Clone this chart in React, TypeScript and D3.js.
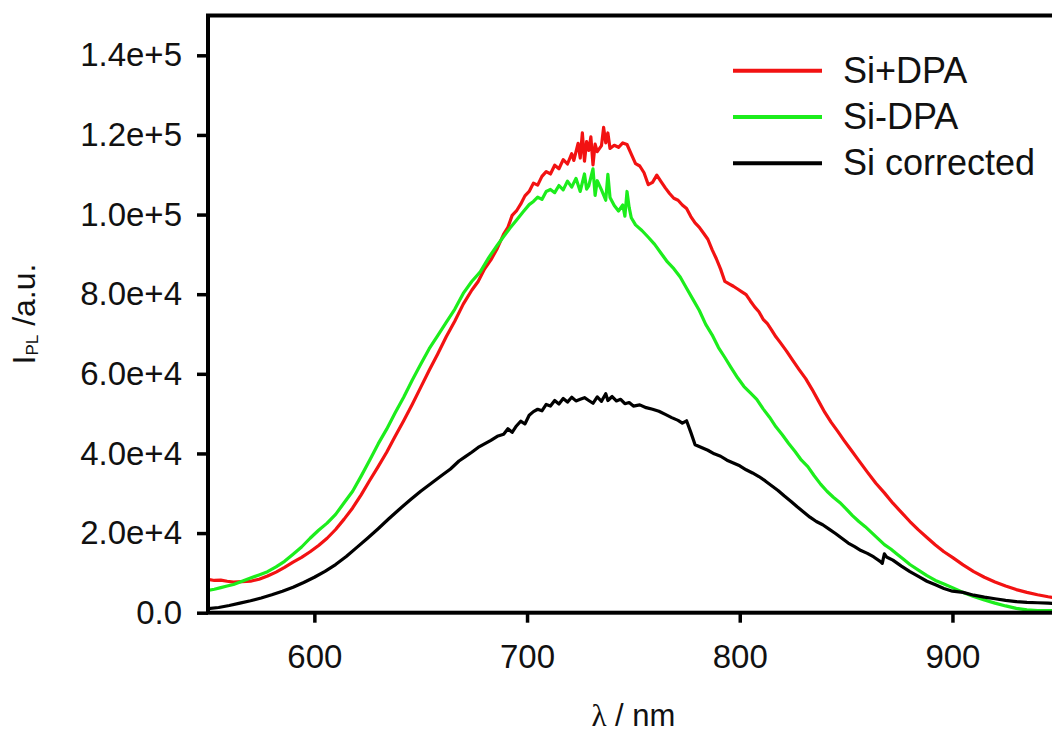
import { useEffect, useRef } from "react";
import * as d3 from "d3";

type Pt = [number, number];

// PL spectra: [wavelength nm, intensity a.u.]
const siPlusDpa: Pt[] = [
  [550, 8400], [553, 8100], [556, 8200], [559, 7900], [562, 7700], [566, 7800], [570, 7900],
  [574, 8400], [578, 9200], [582, 10200], [586, 11400], [590, 12700], [594, 13900], [598, 15300],
  [602, 16900], [606, 18700], [610, 20900], [614, 23500], [618, 26300], [622, 29600], [626, 33200],
  [630, 36700], [634, 40300], [638, 44300], [642, 48200], [646, 52300], [650, 56600], [654, 60900],
  [658, 65000], [662, 69300], [666, 73200], [670, 77500], [674, 81000], [677, 83200], [680, 86300],
  [683, 88600], [686, 91500], [689, 95100], [691, 96800], [693, 99800], [695, 100900], [697, 102600],
  [699, 104700], [701, 105800], [703, 107900], [705, 107400], [707, 109600], [709, 110800],
  [711, 110200], [713, 112400], [715, 111500], [717, 113800], [719, 112700], [721, 115300],
  [722, 113600], [724, 117900], [725, 114200], [726, 120500], [727, 113400], [728, 118300],
  [729, 116100], [730, 119500], [731, 112500], [732, 117700], [733, 115800], [735, 117300],
  [736, 121900], [737, 118000], [738, 120500], [739, 116600], [741, 117400], [743, 116900],
  [745, 118000], [747, 117600], [749, 115200], [751, 112800], [753, 112200], [755, 110500],
  [757, 107500], [759, 108100], [761, 109900], [763, 108300], [765, 106700], [767, 105300],
  [769, 104100], [771, 103600], [773, 102400], [775, 101500], [777, 99500], [779, 97900],
  [781, 96800], [783, 95300], [785, 93800], [787, 91200], [789, 88900], [791, 86300], [793, 83200],
  [795, 82600], [797, 82000], [799, 81300], [801, 80600], [803, 79900], [805, 78300], [807, 76800],
  [809, 75600], [811, 73700], [813, 72600], [815, 71000], [817, 69300], [819, 67900], [822, 65700],
  [825, 63300], [828, 61000], [831, 58800], [834, 56100], [837, 53200], [840, 50300], [843, 47800],
  [846, 45600], [849, 43300], [852, 41100], [856, 38200], [860, 35300], [864, 32500], [868, 30100],
  [872, 27500], [876, 25200], [880, 22900], [884, 20800], [888, 18900], [892, 17000], [896, 15300],
  [900, 13900], [905, 12000], [910, 10300], [915, 8900], [920, 7700], [925, 6700], [930, 5800],
  [935, 5100], [940, 4500], [945, 4000], [950, 3600],
];

const siMinusDpa: Pt[] = [
  [550, 5600], [553, 5900], [556, 6300], [559, 6700], [562, 7100], [566, 7900], [570, 8700],
  [574, 9500], [578, 10300], [582, 11500], [586, 12900], [590, 14700], [594, 16500], [598, 18700],
  [602, 20700], [606, 22500], [610, 24700], [614, 27600], [618, 30500], [622, 34300], [626, 38300],
  [630, 42400], [634, 46100], [638, 50200], [642, 54100], [646, 58400], [650, 62400], [654, 66300],
  [658, 69600], [662, 72900], [666, 76200], [670, 80200], [674, 83200], [678, 85600], [682, 89200],
  [686, 92300], [689, 94500], [692, 96600], [695, 98600], [698, 100600], [701, 102500],
  [703, 103300], [705, 104400], [707, 103800], [709, 105800], [711, 106300], [713, 105500],
  [715, 107300], [717, 106200], [719, 108400], [721, 106900], [723, 109100], [725, 105800],
  [727, 110200], [728, 106400], [729, 107200], [731, 111500], [732, 104800], [733, 108500],
  [735, 106200], [737, 103600], [738, 110100], [739, 104300], [741, 102300], [743, 100900],
  [745, 102400], [746, 99600], [747, 105800], [748, 101800], [749, 99200], [751, 97400],
  [754, 96000], [757, 94300], [760, 92500], [763, 90300], [766, 88100], [769, 86400], [772, 84300],
  [775, 81500], [778, 78700], [781, 75900], [784, 72400], [787, 69800], [790, 66600], [793, 64100],
  [796, 61500], [799, 59000], [802, 56800], [805, 55200], [808, 53600], [811, 51200], [814, 49100],
  [817, 46700], [820, 44700], [823, 42500], [826, 40500], [829, 38300], [832, 36700], [835, 34400],
  [838, 32300], [841, 30500], [844, 29000], [847, 27700], [850, 26100], [853, 24400], [856, 22900],
  [859, 21600], [862, 20100], [865, 18600], [868, 17100], [871, 16000], [874, 14700], [877, 13400],
  [880, 12100], [884, 10700], [888, 9300], [892, 8100], [896, 7200], [900, 6300], [905, 5100],
  [910, 4100], [915, 3200], [920, 2400], [925, 1700], [930, 1100], [935, 700], [940, 500],
  [945, 500], [950, 600],
];

const siCorrected: Pt[] = [
  [550, 1000], [555, 1300], [560, 1800], [565, 2400], [570, 3000], [575, 3700], [580, 4500],
  [585, 5400], [590, 6400], [595, 7600], [600, 8900], [605, 10400], [610, 12100], [615, 14100],
  [620, 16400], [625, 18700], [630, 21100], [635, 23600], [640, 26000], [645, 28300], [650, 30500],
  [655, 32500], [660, 34500], [664, 36100], [668, 38100], [671, 39200], [674, 40300], [677, 41500],
  [680, 42400], [683, 43300], [686, 44300], [689, 44800], [691, 46200], [693, 45300], [695, 46900],
  [697, 48100], [699, 47400], [701, 49600], [703, 50500], [705, 51100], [707, 50700], [709, 52300],
  [711, 51900], [713, 53300], [715, 52400], [717, 53800], [719, 52900], [721, 54100], [723, 53200],
  [725, 53600], [727, 54000], [729, 53300], [731, 52600], [733, 54200], [735, 53100], [737, 55000],
  [738, 53300], [740, 54300], [742, 53200], [744, 53600], [746, 52500], [748, 52800], [750, 51900],
  [753, 52200], [756, 51500], [759, 51100], [762, 50600], [765, 49800], [768, 49000], [771, 48300],
  [773, 47600], [775, 48200], [777, 45300], [779, 42200], [782, 41500], [785, 40800], [788, 39900],
  [791, 39300], [794, 38300], [797, 37600], [800, 36900], [803, 35900], [806, 35100], [809, 34200],
  [812, 33100], [815, 31900], [818, 30700], [821, 29300], [824, 28000], [827, 26600], [830, 25300],
  [833, 24000], [836, 22900], [839, 22100], [842, 21000], [845, 19900], [848, 18700], [851, 17500],
  [854, 16600], [857, 15600], [860, 14900], [863, 14000], [866, 12900], [867, 12400], [868, 14800],
  [869, 14000], [872, 13200], [876, 11700], [880, 10300], [884, 9100], [888, 7900], [892, 7000],
  [896, 6100], [900, 5400], [905, 5100], [910, 4400], [915, 3900], [920, 3500], [925, 3100],
  [930, 2800], [935, 2600], [940, 2500], [945, 2400], [950, 2300],
];

const seriesNames = ["Si+DPA", "Si-DPA", "Si corrected"];
const xTickValues = [600, 700, 800, 900];
const yTickValues = [0, 20000, 40000, 60000, 80000, 100000, 120000, 140000];
const yTickLabels = ["0.0", "2.0e+4", "4.0e+4", "6.0e+4", "8.0e+4", "1.0e+5", "1.2e+5", "1.4e+5"];

const COLORS = ["#f21212", "#1ced1c", "#000000"];
const FONT = "'Liberation Sans', Arial, sans-serif";

export default function App() {
  const svgRef = useRef<SVGSVGElement>(null);

  useEffect(() => {
    const width = 1052;
    const height = 735;
    const left = 208;
    const right = 1058.8; // 950 nm sits just past the page edge
    const top = 15.5;
    const bottom = 612.7;

    const svg = d3.select(svgRef.current);
    svg.selectAll("*").remove();

    const x = d3.scaleLinear().domain([550, 950]).range([left, right]);
    const y = d3.scaleLinear().domain([0, 150000]).range([bottom, top]);

    svg.append("rect").attr("width", width).attr("height", height).attr("fill", "#fff");

    svg
      .append("clipPath")
      .attr("id", "plot-clip")
      .append("rect")
      .attr("x", left)
      .attr("y", top)
      .attr("width", right - left)
      .attr("height", bottom - top);

    const line = d3
      .line<Pt>()
      .x((d) => x(d[0]))
      .y((d) => y(d[1]));

    const series = [siPlusDpa, siMinusDpa, siCorrected];
    const curves = svg.append("g").attr("clip-path", "url(#plot-clip)");
    series.forEach((data, i) => {
      curves
        .append("path")
        .datum(data)
        .attr("fill", "none")
        .attr("stroke", COLORS[i])
        .attr("stroke-width", 3.2)
        .attr("stroke-linejoin", "round")
        .attr("d", line);
    });

    // frame
    svg
      .append("rect")
      .attr("x", left)
      .attr("y", top)
      .attr("width", right - left)
      .attr("height", bottom - top)
      .attr("fill", "none")
      .attr("stroke", "#000")
      .attr("stroke-width", 4);

    const xAxis = svg
      .append("g")
      .attr("transform", `translate(0,${bottom})`)
      .call(d3.axisBottom(x).tickValues(xTickValues).tickSize(10).tickPadding(22).tickFormat(d3.format("d")));

    const yAxis = svg
      .append("g")
      .attr("transform", `translate(${left},0)`)
      .call(
        d3
          .axisLeft(y)
          .tickValues(yTickValues)
          .tickSize(11)
          .tickPadding(15)
          .tickFormat((_, i) => yTickLabels[i])
      );

    [xAxis, yAxis].forEach((g) => {
      g.select(".domain").remove();
      g.selectAll(".tick line").attr("stroke", "#000").attr("stroke-width", 3.5);
      g.selectAll(".tick text")
        .attr("fill", "#111")
        .style("font-family", FONT)
        .style("font-size", "33px");
    });

    // axis titles
    const xTitle = svg
      .append("text")
      .attr("x", (left + right) / 2)
      .attr("y", 726)
      .attr("text-anchor", "middle")
      .attr("fill", "#111")
      .style("font-family", FONT)
      .style("font-size", "31px");
    xTitle.append("tspan").style("font-family", "'Liberation Serif', 'DejaVu Serif', serif").text("λ");
    xTitle.append("tspan").text(" / nm");

    const yTitle = svg
      .append("text")
      .attr("transform", `translate(35,314) rotate(-90)`)
      .attr("text-anchor", "middle")
      .attr("fill", "#111")
      .style("font-family", FONT)
      .style("font-size", "32px");
    yTitle.append("tspan").text("I");
    yTitle.append("tspan").attr("dy", 3).style("font-size", "17px").text("PL");
    yTitle.append("tspan").attr("dy", -3).text(" /a.u.");

    // legend
    const legend = svg.append("g").attr("transform", "translate(733,70.7)");
    seriesNames.forEach((name, i) => {
      const row = legend.append("g").attr("transform", `translate(0,${i * 46.3})`);
      row
        .append("line")
        .attr("x1", 0)
        .attr("x2", 89)
        .attr("stroke", COLORS[i])
        .attr("stroke-width", 4);
      row
        .append("text")
        .attr("x", 110)
        .attr("y", 12)
        .attr("fill", "#111")
        .style("font-family", FONT)
        .style("font-size", "36px")
        .text(name);
    });
  }, []);

  return (
    <svg
      ref={svgRef}
      width={1052}
      height={735}
      style={{ position: "absolute", left: 0, top: 0, display: "block" }}
    />
  );
}
